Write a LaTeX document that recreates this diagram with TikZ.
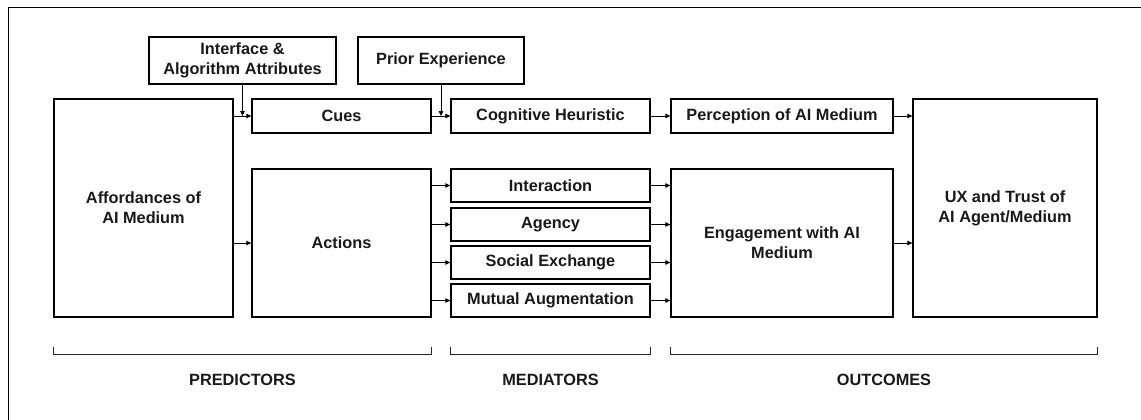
\documentclass[tikz,border=0pt]{standalone}
\usepackage{fontspec}
\setmainfont{Liberation Sans}
\usetikzlibrary{arrows.meta,calc}
\begin{document}
\begin{tikzpicture}[x=1pt,y=-1pt,
  box/.style={draw=black,line width=1.3pt,fill=white,inner sep=0pt,align=center,
    font=\fontsize{16.3}{20}\selectfont\bfseries,text=black!90},
  arr/.style={line width=1pt,-{Triangle[length=5pt,width=4.5pt]}},
  brk/.style={line width=1.1pt,draw=black!85},
  lbl/.style={font=\fontsize{16.3}{20}\selectfont\bfseries,text=black!90,inner sep=0pt}]
\useasboundingbox (0,0) rectangle (1141,420);
% outer frame
\draw[line width=1.3pt] (8.5,425) -- (8.5,7.5) -- (1146,7.5);

% predictors
\node[box,minimum width=187pt,minimum height=47pt] (iface) at (242.5,60.5) {Interface \&\\Algorithm Attributes};
\node[box,minimum width=166pt,minimum height=47pt] (prior) at (441,60.5) {Prior Experience};
\node[box,minimum width=179pt,minimum height=218pt] (aff) at (143.5,208) {Affordances of\\AI Medium};
\node[box,minimum width=179pt,minimum height=34pt] (cues) at (341.5,116) {Cues};
\node[box,minimum width=179pt,minimum height=148pt] (act) at (341.5,243) {Actions};

% mediators
\node[box,minimum width=199pt,minimum height=34pt] (cog) at (550.5,116) {Cognitive Heuristic};
\node[box,minimum width=199pt,minimum height=33pt] (inter) at (550.5,185.5) {Interaction};
\node[box,minimum width=199pt,minimum height=33pt] (agency) at (550.5,224.5) {Agency};
\node[box,minimum width=199pt,minimum height=33pt] (social) at (550.5,262.5) {Social Exchange};
\node[box,minimum width=199pt,minimum height=33pt] (mutual) at (550.5,300.5) {Mutual Augmentation};

% outcomes
\node[box,minimum width=222pt,minimum height=34pt] (perc) at (782,116) {Perception of AI Medium};
\node[box,minimum width=222pt,minimum height=148pt] (eng) at (782,243) {Engagement with AI\\Medium};
\node[box,minimum width=184pt,minimum height=218pt] (ux) at (1005,208) {UX and Trust of\\AI Agent/Medium};

% connectors
\draw[arr] (aff.east |- cues.west) -- (cues.west);
\draw[arr] (iface.south) -- (iface.south |- cues.west);
\draw[arr] (cues.east) -- (cog.west);
\draw[arr] (prior.south) -- (prior.south |- cues.east);
\draw[arr] (cog.east) -- (perc.west);
\draw[arr] (perc.east) -- (ux.west |- perc.east);
\draw[arr] (aff.east |- act.west) -- (act.west);
\foreach \m in {inter,agency,social,mutual}{
  \draw[arr] (act.east |- \m.west) -- (\m.west);
  \draw[arr] (\m.east) -- (eng.west |- \m.east);
}
\draw[arr] (eng.east) -- (ux.west |- eng.east);

% group brackets
\draw[brk] ([yshift=-29pt]aff.south west) -- ([yshift=-37pt]aff.south west)
  -| ([yshift=-29pt]act.south east);
\draw[brk] ([yshift=-29pt]mutual.south west) -- ([yshift=-37pt]mutual.south west)
  -| ([yshift=-29pt]mutual.south east);
\draw[brk] ([yshift=-29pt]eng.south west) -- ([yshift=-37pt]eng.south west)
  -| ([yshift=-29pt]ux.south east);

% group labels
\node[lbl] (pred) at ($(aff.south west)!0.5!(act.south east)+(0,62)$) {PREDICTORS};
\node[lbl] (med) at ($(mutual.south west)!0.5!(mutual.south east)+(0,62)$) {MEDIATORS};
\node[lbl] (outc) at ($(eng.south west)!0.5!(ux.south east)+(0,62)$) {OUTCOMES};
\end{tikzpicture}
\end{document}
